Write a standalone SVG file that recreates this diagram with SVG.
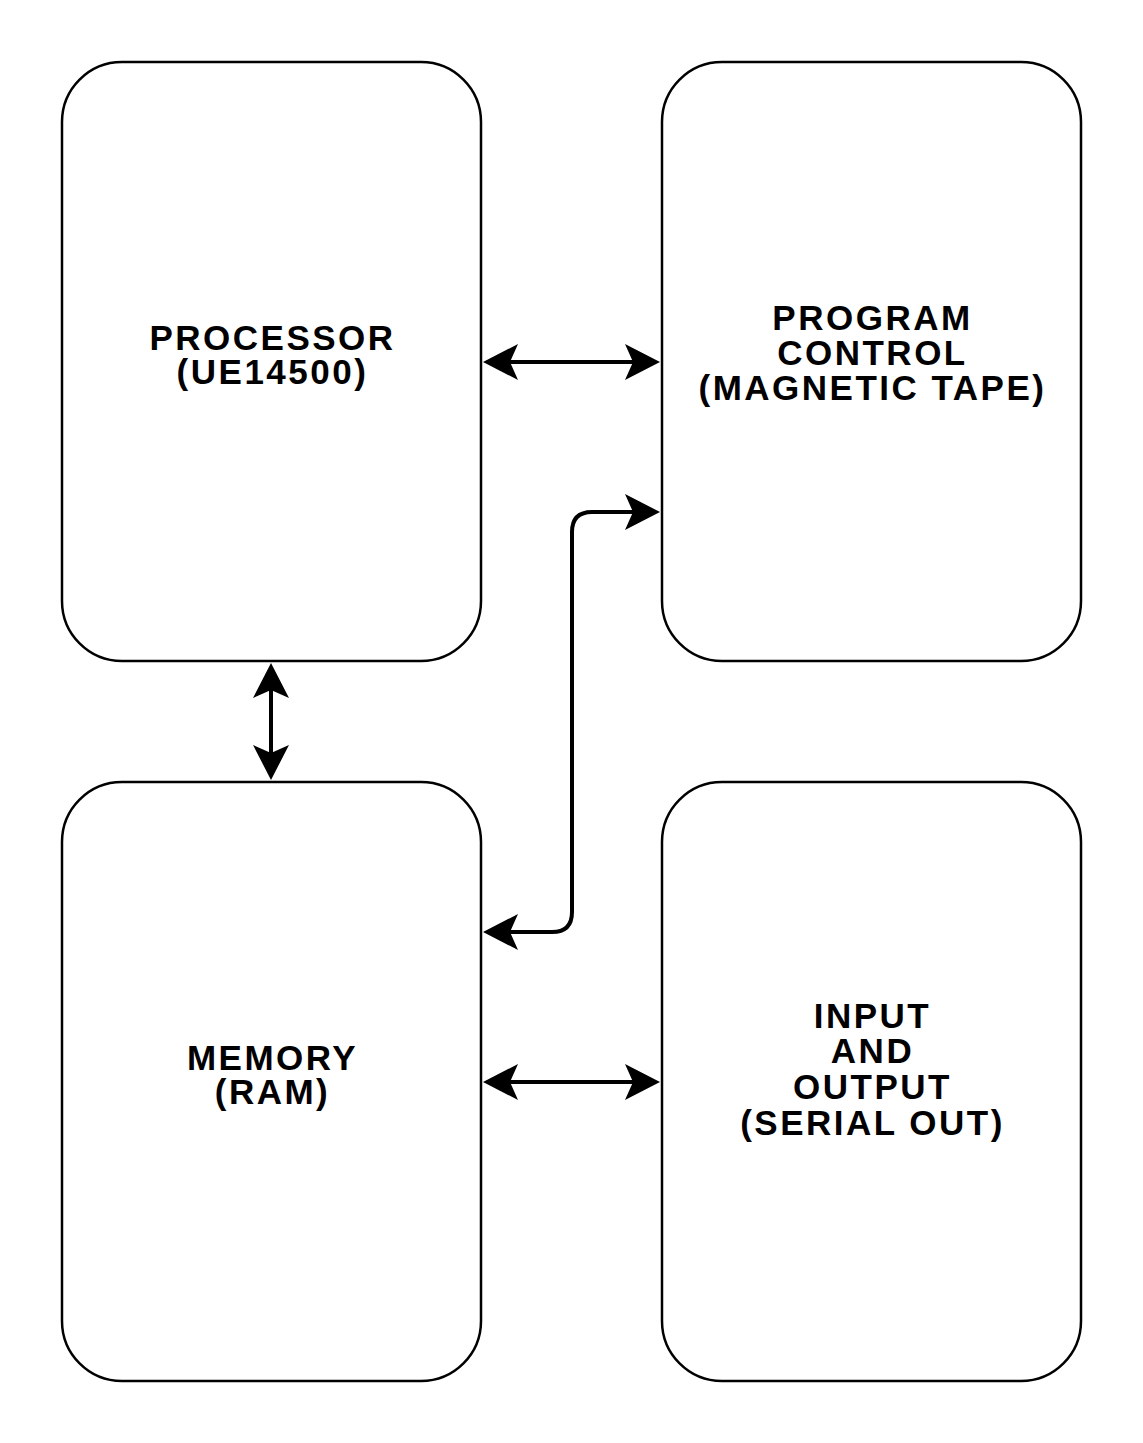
<svg xmlns="http://www.w3.org/2000/svg" width="1143" height="1443" viewBox="0 0 1143 1443">
<style>
.box{fill:#fff;stroke:#000;stroke-width:2.5}
.lbl{font-family:"Liberation Sans",Arial,sans-serif;font-weight:bold;font-size:35px;letter-spacing:2.5px;text-anchor:middle;fill:#000}
.conn{fill:none;stroke:#000;stroke-width:4}
</style>
<defs>
<marker id="ah" markerUnits="userSpaceOnUse" markerWidth="40" markerHeight="40" viewBox="-36 -20 40 40" refX="-27" refY="0" orient="auto-start-reverse">
<path d="M0,0 L-35,-18 L-27,0 L-35,18 Z" fill="#000"/>
</marker>
</defs>
<rect width="1143" height="1443" fill="#fff"/>
<g id="processor">
<rect class="box" x="62" y="62" width="419" height="599" rx="60" ry="60"/>
<text class="lbl" x="272.5" y="350">PROCESSOR</text>
<text class="lbl" x="272.5" y="384">(UE14500)</text>
</g>
<g id="program-control">
<rect class="box" x="662" y="62" width="419" height="599" rx="60" ry="60"/>
<text class="lbl" x="872.5" y="330">PROGRAM</text>
<text class="lbl" x="872.5" y="365">CONTROL</text>
<text class="lbl" x="872.5" y="400">(MAGNETIC TAPE)</text>
</g>
<g id="memory">
<rect class="box" x="62" y="782" width="419" height="599" rx="60" ry="60"/>
<text class="lbl" x="272.5" y="1070">MEMORY</text>
<text class="lbl" x="272.5" y="1104">(RAM)</text>
</g>
<g id="io">
<rect class="box" x="662" y="782" width="419" height="599" rx="60" ry="60"/>
<text class="lbl" x="872.5" y="1028">INPUT</text>
<text class="lbl" x="872.5" y="1063">AND</text>
<text class="lbl" x="872.5" y="1099">OUTPUT</text>
<text class="lbl" x="872.5" y="1135">(SERIAL OUT)</text>
</g>
<g id="connectors">
<path class="conn" d="M510,362 H633" marker-start="url(#ah)" marker-end="url(#ah)"/>
<path class="conn" d="M271,690 V753" marker-start="url(#ah)" marker-end="url(#ah)"/>
<path class="conn" d="M510,932 H552 Q572,932 572,912 V532 Q572,512 592,512 H633" marker-start="url(#ah)" marker-end="url(#ah)"/>
<path class="conn" d="M510,1082 H633" marker-start="url(#ah)" marker-end="url(#ah)"/>
</g>
</svg>
